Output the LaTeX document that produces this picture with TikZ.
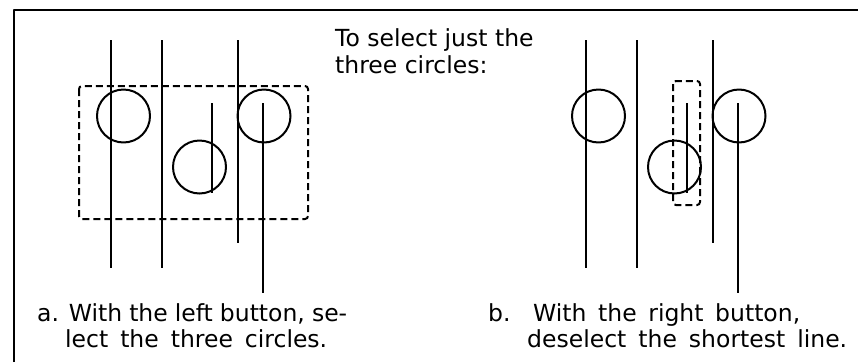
\documentclass[tikz,border=0pt]{standalone}
\usepackage{fontspec}
\setmainfont{DejaVu Sans}
\usetikzlibrary{positioning}
\tikzset{
    every picture/.style={line cap=butt,line join=round},
    figline/.style={line width=2pt},
    ring/.style={draw,circle,line width=2pt,minimum size=53pt,inner sep=0pt},
    selbox/.style={draw,line width=2pt,dash pattern=on 7pt off 4pt,rounded corners=3pt},
    caption/.style={anchor=base west,inner sep=0pt,font=\fontsize{23.5}{26}\selectfont}
}

\begin{document}
\begin{tikzpicture}[x=1pt,y=-1pt]
  \useasboundingbox (0,0) rectangle (858,362);
  % frame, only left and top edges show
  \draw[line width=2.2pt] (14,362) -- (14,10) -- (858,10);
  % the same lines and circles in both panels
  \foreach \dx/\p in {0/a,475/b}{
    \begin{scope}[xshift=\dx pt]
      \draw[figline] (111,40) -- (111,268);
      \draw[figline] (162,40) -- (162,268);
      \draw[figline] (238,40) -- (238,243);
      \draw[figline] (212,103) -- (212,193);
      \draw[figline] (263,103) -- (263,293);
      \node[ring] (\p-c1) at (123.5,116) {};
      \node[ring] (\p-c2) at (199.5,167) {};
      \node[ring] (\p-c3) at (264,116) {};
    \end{scope}
  }
  % selection rectangles
  \draw[selbox] (79,86) rectangle (308,219);
  \draw[selbox] (673,81) rectangle (700,205);
  % texts
  \node[caption] (intro1) at (335,46) {To select just the};
  \node[caption] (intro2) at (335,73) {three circles:};
  \node[caption] (capa1) at (37,321) {\makebox[310pt][s]{a. With the left button, se-}};
  \node[caption] (capa2) at (65,347) {\makebox[262pt][s]{lect the three circles.}};
  \node[caption] (capb1) at (488,321) {\makebox[312pt][s]{b. With the right button,}};
  \node[caption] (capb2) at (527,347) {\makebox[320pt][s]{deselect the shortest line.}};
\end{tikzpicture}
\end{document}
